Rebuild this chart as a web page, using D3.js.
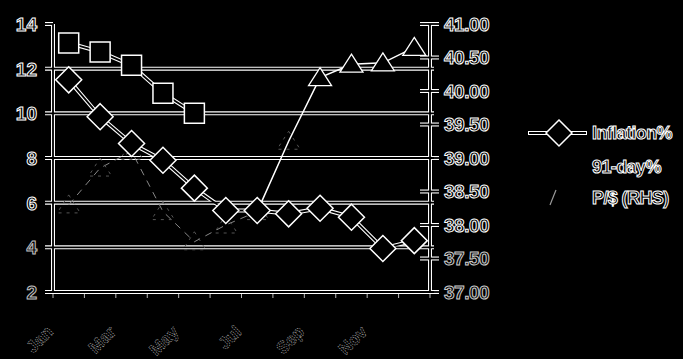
<!DOCTYPE html>
<html>
<head>
<meta charset="utf-8">
<script src="https://cdn.jsdelivr.net/npm/d3@7"></script>
<style>
  html, body { margin: 0; padding: 0; background: #000; }
  svg { display: block; }
  .lbl { font-family: "Liberation Sans", Arial, sans-serif; font-weight: bold; fill: #000; stroke: #fff; stroke-width: 1; }
</style>
</head>
<body>
<div id="chart"></div>
<script>
// (DATA)
var months = ["Jan", "", "Mar", "", "May", "", "Jul", "", "Sep", "", "Nov", ""];
var inflation = [11.5, 9.85, 8.65, 7.9, 6.65, 5.65, 5.65, 5.5, 5.75, 5.35, 3.95, 4.3];
var day91 = [13.15, 12.75, 12.15, 10.9, 10.0, null, null, null, null, null, null, null];
var pesoDollar = [38.3, 38.85, 39.1, 38.2, 37.75, 38.0, 38.2, 39.25, 40.2, 40.4, 40.42, 40.65];
var leftTicks = [2, 4, 6, 8, 10, 12, 14];
var rightTicks = [37, 37.5, 38, 38.5, 39, 39.5, 40, 40.5, 41];
var legendLabels = ["Inflation%", "91-day%", "P/$ (RHS)"];

function init() {
  var w = 683, h = 359;
  var padLeft = 53, padRight = 430, padTop = 24, padBottom = 292;

  var svg = d3.select("#chart").append("svg")
    .attr("width", w).attr("height", h)
    .style("background", "#000");

  // (SCALES)
  var x = d3.scaleBand().domain(d3.range(months.length)).range([padLeft, padRight]);
  var yL = d3.scaleLinear().domain([2, 14]).range([padBottom, padTop]);
  var yR = d3.scaleLinear().domain([37, 41]).range([padBottom, padTop]);
  var cx = function(i) { return x(i) + x.bandwidth() / 2; };

  // layers: white "outline" strokes go under black cores so crossings merge
  var outer = svg.append("g");
  var inner = svg.append("g");
  var marks = svg.append("g");

  function doubleLine(d) {
    outer.append("path").attr("d", d).attr("fill", "none")
      .attr("stroke", "#fff").attr("stroke-width", 4).attr("stroke-linejoin", "round");
    inner.append("path").attr("d", d).attr("fill", "none")
      .attr("stroke", "#000").attr("stroke-width", 1.8).attr("stroke-linejoin", "round");
  }

  // (GRID + AXES)
  leftTicks.forEach(function(t) {
    var y = yL(t);
    doubleLine("M" + (padLeft - 8) + "," + y + "H" + (t === 14 ? padLeft : padRight + 4));
  });
  doubleLine("M" + padLeft + "," + padTop + "V" + padBottom);
  doubleLine("M" + padRight + "," + padTop + "V" + padBottom);
  rightTicks.forEach(function(t) {
    doubleLine("M" + (padRight - 10) + "," + yR(t) + "H" + (padRight + 9));
  });

  // bottom axis ticks at category boundaries
  d3.range(months.length + 1).forEach(function(i) {
    var xx = padLeft + i * x.step();
    svg.append("line").attr("x1", xx).attr("x2", xx).attr("y1", padBottom + 2).attr("y2", padBottom + 6)
      .attr("stroke", "#bbb").attr("stroke-width", 1);
  });

  // tick labels
  svg.selectAll(".ll").data(leftTicks).enter().append("text")
    .attr("class", "lbl").attr("x", 37).attr("y", function(d) { return yL(d); })
    .attr("dy", "0.36em").attr("text-anchor", "end").style("font-size", "19px")
    .attr("opacity", function(d) { return d <= 4 ? 0.75 : 1; })
    .text(function(d) { return d; });

  svg.selectAll(".rl").data(rightTicks).enter().append("text")
    .attr("class", "lbl").attr("x", 444).attr("y", function(d) { return yR(d); })
    .attr("dy", "0.36em").style("font-size", "19px").style("letter-spacing", "-0.5px")
    .attr("opacity", function(d) { return d <= 37.5 ? 0.8 : 1; })
    .text(function(d) { return d3.format(".2f")(d); });

  // x labels, rotated
  months.forEach(function(m, i) {
    if (!m) return;
    var xx = padLeft + i * x.step() + 1;
    svg.append("text").attr("class", "lbl")
      .attr("transform", "translate(" + xx + "," + 333 + ") rotate(-45)")
      .attr("text-anchor", "end").style("font-size", "17px")
      .style("stroke", "#999").style("stroke-width", 0.7).style("stroke-dasharray", "1.5 1")
      .text(m);
  });

  // (SERIES)
  var lineL = d3.line().defined(function(d) { return d != null; })
    .x(function(d, i) { return cx(i); }).y(function(d) { return yL(d); });
  var lineR = d3.line().defined(function(d) { return d != null; })
    .x(function(d, i) { return cx(i); }).y(function(d) { return yR(d); });

  doubleLine(lineL(inflation));
  doubleLine(lineL(day91));

  // P/$ line: faint (badly printed) in the early months, solid later
  var fadeUntil = 6;
  var early = pesoDollar.map(function(d, i) { return i <= fadeUntil ? d : null; });
  var late = pesoDollar.map(function(d, i) { return i >= fadeUntil ? d : null; });
  marks.append("path").attr("d", lineR(early)).attr("fill", "none")
    .attr("stroke", "#888").attr("stroke-width", 1).attr("stroke-dasharray", "7 6");
  marks.append("path").attr("d", lineR(late))
    .attr("fill", "none").attr("stroke", "#fff").attr("stroke-width", 1.5);

  var diamond = function(r) { return "M0," + (-r) + "L" + r + ",0L0," + r + "L" + (-r) + ",0Z"; };
  var square = function(r) { return "M" + (-r) + "," + (-r) + "H" + r + "V" + r + "H" + (-r) + "Z"; };
  var triangle = function(r) { return "M0," + (-r) + "L" + (r * 1.15) + "," + (r * 0.8) + "H" + (-r * 1.15) + "Z"; };

  marks.selectAll(".sq").data(day91.filter(function(d) { return d != null; })).enter().append("path")
    .attr("transform", function(d, i) { return "translate(" + cx(i) + "," + yL(d) + ")"; })
    .attr("d", square(10)).attr("fill", "#000").attr("stroke", "#fff").attr("stroke-width", 1.5);

  marks.selectAll(".tri").data(pesoDollar).enter().append("path")
    .attr("transform", function(d, i) { return "translate(" + cx(i) + "," + yR(d) + ")"; })
    .attr("d", triangle(10))
    .attr("fill", function(d, i) { return i > fadeUntil + 1 ? "#000" : "none"; })
    .attr("stroke", function(d, i) { return i > fadeUntil + 1 ? "#fff" : "#555"; })
    .attr("stroke-dasharray", function(d, i) { return i > fadeUntil + 1 ? null : "3 5"; })
    .attr("stroke-width", function(d, i) { return i > fadeUntil + 1 ? 1.3 : 1; });

  marks.selectAll(".dia").data(inflation).enter().append("path")
    .attr("transform", function(d, i) { return "translate(" + cx(i) + "," + yL(d) + ")"; })
    .attr("d", diamond(13)).attr("fill", "#000").attr("stroke", "#fff").attr("stroke-width", 1.5);

  // (LEGEND)
  var lg = svg.append("g");
  var legY = [133, 167, 198];
  lg.append("path").attr("d", "M528," + legY[0] + "H587").attr("stroke", "#fff").attr("stroke-width", 4);
  lg.append("path").attr("d", "M529," + legY[0] + "H586").attr("stroke", "#000").attr("stroke-width", 1.8);
  lg.append("path").attr("transform", "translate(559," + legY[0] + ")").attr("d", diamond(13))
    .attr("fill", "#000").attr("stroke", "#fff").attr("stroke-width", 1.5);
  lg.append("path").attr("d", "M550,205L556,190").attr("stroke", "#999").attr("stroke-width", 1.2);
  lg.selectAll("text").data(legendLabels).enter().append("text")
    .attr("class", "lbl").attr("x", 592).attr("y", function(d, i) { return legY[i]; })
    .attr("dy", "0.36em").style("font-size", "18px").style("letter-spacing", "-0.6px")
    .text(function(d) { return d; });
}

window.onload = init;
</script>
</body>
</html>
